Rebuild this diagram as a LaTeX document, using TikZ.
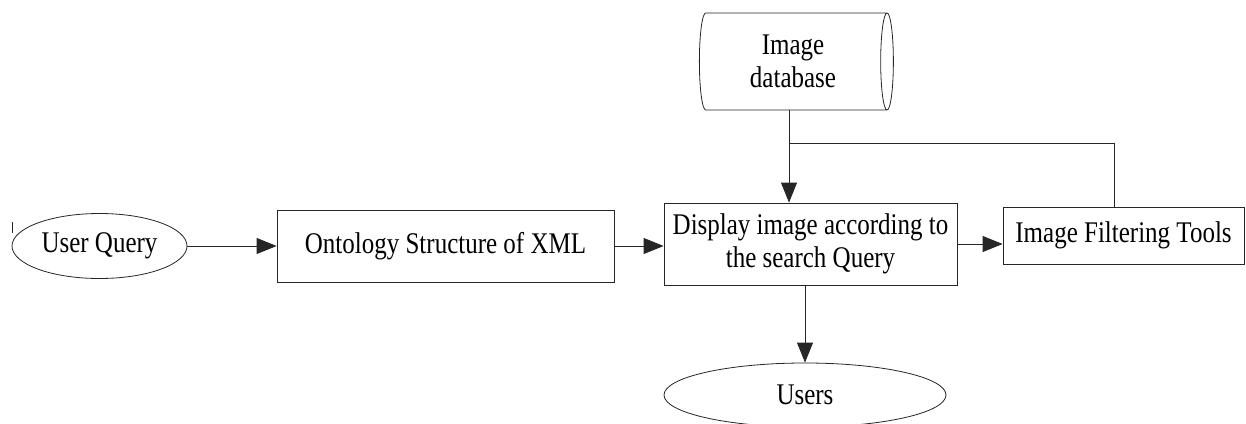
\documentclass[tikz,border=0pt]{standalone}
\usepackage{fontspec}
\setmainfont{Liberation Serif}
\usepackage{graphicx}
\usetikzlibrary{calc,shapes.geometric,arrows.meta}

% Schrift etwas gestreckt wie im Original
\newcommand{\vtxt}[1]{\scalebox{1}[1.2]{#1}}

\begin{document}
\begin{tikzpicture}[x=1pt,y=-1pt,
        box/.style={draw=black!85,line width=0.8pt,rectangle,inner sep=0pt},
        oval/.style={draw=black!85,line width=0.8pt,ellipse,inner sep=0pt},
        arr/.style={draw=black!85,line width=0.8pt,-{Triangle[length=20pt,width=16pt]}},
        lin/.style={draw=black!85,line width=0.8pt},
        font=\fontsize{25}{33}\selectfont]
        \useasboundingbox (0,0) rectangle (1246,423);

        % Knoten
        \node[oval,minimum width=175pt,minimum height=65pt] (uq) at (99.5,246) {\vtxt{User Query}};
        \node[box,minimum width=337pt,minimum height=72pt] (onto) at (445.5,246) {\vtxt{Ontology Structure of XML}};
        \node[box,minimum width=293pt,minimum height=82pt,align=center] (disp) at (810.5,244)
            {\vtxt{Display image according to}\\\vtxt{the search Query}};
        \node[box,minimum width=241pt,minimum height=57pt] (filt) at (1123.5,235.5) {\vtxt{Image Filtering Tools}};
        \node[draw=black!85,line width=0.8pt,cylinder,aspect=0.24,minimum width=97pt,minimum height=194pt,
            inner sep=0pt,align=center] (db) at (793,61.5) {\vtxt{Image}\\\vtxt{database}};
        \node[oval,minimum width=282pt,minimum height=64pt] (users) at (805,395) {\vtxt{Users}};

        % Abzweigungen
        \coordinate (j) at (789,143);
        \coordinate (k) at (1114,143);

        % Pfeile
        \draw[arr] (uq.east) -- (onto.west);
        \draw[arr] (onto.east) -- (onto.east -| disp.west);
        \draw[arr] (disp.east) -- (disp.east -| filt.west);
        \draw[arr] (j |- db.south) -- (j |- disp.north);
        \draw[lin] (j) -- (k) -- (k |- filt.north);
        \draw[arr] (users.north |- disp.south) -- (users.north);

        % Strich links
        \draw[lin] (12,222) -- (12,233);
    \end{tikzpicture}
\end{document}
